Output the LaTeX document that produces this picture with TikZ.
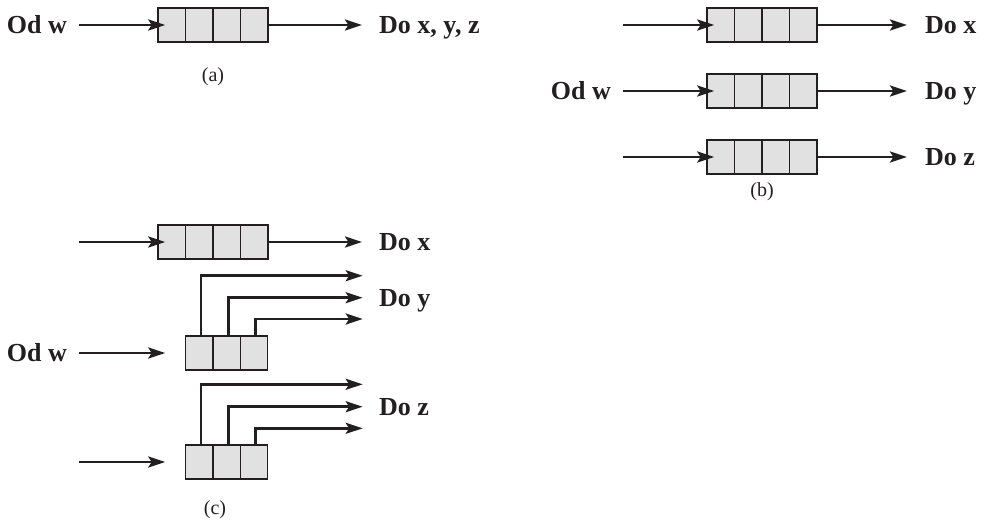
\documentclass[tikz,border=0pt]{standalone}
\usepackage{fontspec}
\setmainfont{Liberation Serif}
\usetikzlibrary{arrows.meta,calc}
\definecolor{lc}{HTML}{231F20}
\definecolor{qfill}{HTML}{E1E1E1}
\tikzset{
  arr/.style={draw=lc, line width=2.7pt, -{Stealth[length=17pt,width=11pt,inset=3.5pt]}},
  lbl/.style={font=\fontsize{26}{26}\selectfont\bfseries, text=lc, inner sep=0pt, text height=17pt, text depth=0pt},
  captxt/.style={font=\fontsize{20}{20}\selectfont, text=lc, inner sep=0pt},
  qbase/.style={draw=lc, fill=qfill, line width=1.5pt, inner sep=0pt, minimum height=34pt},
  queue4/.style={qbase, minimum width=110pt, path picture={
    \foreach \i in {1,2,3}{\draw[lc,line width=1.5pt]
      ($(path picture bounding box.south west)!\i/4!(path picture bounding box.south east)$) --
      ($(path picture bounding box.north west)!\i/4!(path picture bounding box.north east)$);}}},
  queue3/.style={qbase, minimum width=82pt, path picture={
    \foreach \i in {1,2}{\draw[lc,line width=1.5pt]
      ($(path picture bounding box.south west)!\i/3!(path picture bounding box.south east)$) --
      ($(path picture bounding box.north west)!\i/3!(path picture bounding box.north east)$);}}},
}
\begin{document}
\begin{tikzpicture}[x=1pt,y=-1pt]
\useasboundingbox (0,0) rectangle (985,520);
% ---------- (a)
\node[queue4] (qa) at (213,25) {};
\node[lbl,anchor=east] (oda) at (67,25) {Od w};
\node[lbl,anchor=west] (da) at (379,25) {Do x, y, z};
\draw[arr, shorten <=12pt, shorten >=-8pt] (oda.east) -- (qa.west);
\draw[arr, shorten >=17pt] (qa.east) -- (da.west);
\node[captxt] (capa) at (213,77) {(a)};
% ---------- (b)
\node[queue4] (qb1) at (762,25) {};
\node[queue4] (qb2) at (762,91) {};
\node[queue4] (qb3) at (762,157) {};
\coordinate (sb1) at (623,25);
\coordinate (sb3) at (623,157);
\node[lbl,anchor=east] (odb) at (611,91) {Od w};
\node[lbl,anchor=west] (dbx) at (925,25) {Do x};
\node[lbl,anchor=west] (dby) at (925,91) {Do y};
\node[lbl,anchor=west] (dbz) at (925,157) {Do z};
\draw[arr, shorten >=-8pt] (sb1) -- (qb1.west);
\draw[arr, shorten <=12pt, shorten >=-8pt] (odb.east) -- (qb2.west);
\draw[arr, shorten >=-8pt] (sb3) -- (qb3.west);
\draw[arr, shorten >=18pt] (qb1.east) -- (dbx.west);
\draw[arr, shorten >=18pt] (qb2.east) -- (dby.west);
\draw[arr, shorten >=18pt] (qb3.east) -- (dbz.west);
\node[captxt] (capb) at (762,192) {(b)};
% ---------- (c)
\node[queue4] (qc1) at (213,242) {};
\coordinate (sc1) at (79,242);
\node[lbl,anchor=west] (dcx) at (379,242) {Do x};
\draw[arr, shorten >=-8pt] (sc1) -- (qc1.west);
\draw[arr, shorten >=17pt] (qc1.east) -- (dcx.west);

\node[queue3] (qc2) at (226.7,353) {};
\node[lbl,anchor=east] (odc) at (67,353) {Od w};
\draw[arr, shorten <=12pt, shorten >=19.7pt] (odc.east) -- (qc2.west);
\coordinate (t21) at (362.7,275.7);
\coordinate (t22) at (362.7,297.7);
\coordinate (t23) at (362.7,319);
\draw[arr] ($(qc2.north west)+(16,0)$) |- (t21);
\draw[arr] ($(qc2.north west)+(43.3,0)$) |- (t22);
\draw[arr] ($(qc2.north west)+(70.3,0)$) |- (t23);
\node[lbl,anchor=west] (dcy) at (379,297.7) {Do y};

\node[queue3] (qc3) at (226.7,462) {};
\coordinate (sc3) at (79,462);
\draw[arr, shorten >=19.7pt] (sc3) -- (qc3.west);
\coordinate (t31) at (362.7,384.3);
\coordinate (t32) at (362.7,406.7);
\coordinate (t33) at (362.7,428.3);
\draw[arr] ($(qc3.north west)+(16,0)$) |- (t31);
\draw[arr] ($(qc3.north west)+(43.3,0)$) |- (t32);
\draw[arr] ($(qc3.north west)+(70.3,0)$) |- (t33);
\node[lbl,anchor=west] (dcz) at (379,406.7) {Do z};
\node[captxt] (capc) at (215,510) {(c)};
\end{tikzpicture}
\end{document}
